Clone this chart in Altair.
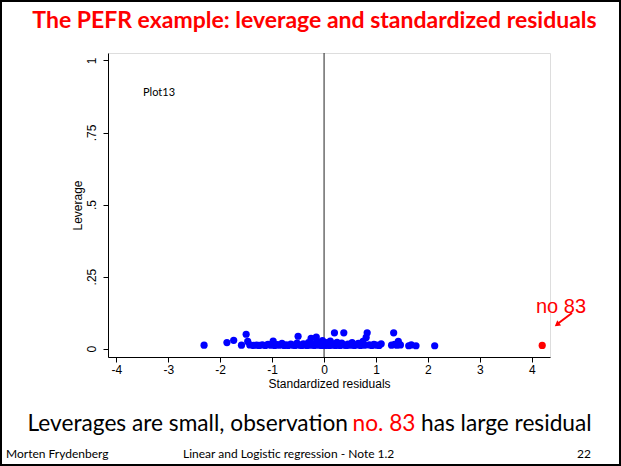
import altair as alt
import pandas as pd

residuals = [-2.31, -1.87, -1.74, -1.50, -1.59, -1.47, -1.43, -1.36, -1.30, -1.25,
             -1.19, -1.13, -1.08, -1.03, -0.98, -0.95, -0.90, -0.86, -0.81, -0.77,
             -0.73, -0.69, -0.64, -0.60, -0.56, -0.52, -0.50, -0.47, -0.43, -0.40,
             -0.37, -0.33, -0.30, -0.27, -0.25, -0.22, -0.19, -0.15, -0.13, -0.11,
             -0.08, -0.05, -0.03, -0.01, 0.02, 0.04, 0.07, 0.10, 0.12, 0.15,
             0.18, 0.20, 0.22, 0.25, 0.28, 0.31, 0.34, 0.38, 0.40, 0.43,
             0.46, 0.50, 0.54, 0.58, 0.62, 0.66, 0.70, 0.75, 0.78, 0.81,
             0.83, 0.87, 0.92, 0.96, 1.01, 1.06, 1.10, 1.30, 1.34, 1.36,
             1.40, 1.43, 1.47, 1.63, 1.68, 1.77, 2.13]
leverages = [0.012, 0.021, 0.029, 0.050, 0.012, 0.025, 0.013, 0.011, 0.012, 0.011,
             0.013, 0.011, 0.015, 0.012, 0.026, 0.011, 0.014, 0.012, 0.018, 0.011,
             0.013, 0.011, 0.016, 0.012, 0.011, 0.019, 0.043, 0.012, 0.011, 0.017,
             0.013, 0.011, 0.021, 0.012, 0.036, 0.015, 0.011, 0.040, 0.025, 0.012,
             0.018, 0.011, 0.028, 0.014, 0.011, 0.021, 0.013, 0.011, 0.026, 0.012,
             0.017, 0.055, 0.011, 0.022, 0.013, 0.011, 0.019, 0.055, 0.012, 0.011,
             0.016, 0.012, 0.021, 0.011, 0.013, 0.018, 0.011, 0.025, 0.012, 0.039,
             0.055, 0.013, 0.011, 0.015, 0.012, 0.011, 0.017, 0.012, 0.055, 0.015,
             0.012, 0.025, 0.013, 0.010, 0.013, 0.010, 0.010]
outlier_residual = [4.20]
outlier_leverage = [0.011]

x_ticks = [-4, -3, -2, -1, 0, 1, 2, 3, 4]
y_ticks = [0, 0.25, 0.5, 0.75, 1]

df = pd.DataFrame({"res": residuals, "lev": leverages})
df_out = pd.DataFrame({"res": outlier_residual, "lev": outlier_leverage})

W, H = 442, 304
PL, PT = 108, 53

xscale = alt.Scale(domain=[-4.16, 4.35], nice=False, zero=False)
yscale = alt.Scale(domain=[-0.029, 1.026], nice=False, zero=False)

common = dict(labelColor="black", titleColor="black", titleFontWeight="normal",
              labelFont="Liberation Sans", titleFont="Liberation Sans",
              domainColor="black", tickColor="black", grid=False)

xaxis = alt.Axis(values=x_ticks, title="Standardized residuals", labelExpr="'' + datum.value",
                 tickSize=5, labelPadding=2, titlePadding=3, labelFontSize=12, titleFontSize=12,
                 **common)
yaxis = alt.Axis(values=y_ticks, title="Leverage",
                 labelExpr="datum.value == 0 ? '0' : datum.value == 1 ? '1' : datum.value == 0.25 ? '.25' : datum.value == 0.5 ? '.5' : '.75'",
                 labelAngle=270, labelAlign="center", labelBaseline="bottom",
                 tickSize=5, labelPadding=5, titlePadding=1, labelFontSize=12, titleFontSize=12,
                 **common)

pts = alt.Chart(df).mark_circle(size=52, color="#0000ff", opacity=1).encode(
    x=alt.X("res:Q", scale=xscale, axis=xaxis),
    y=alt.Y("lev:Q", scale=yscale, axis=yaxis),
)
outp = alt.Chart(df_out).mark_circle(size=52, color="#ff0000", opacity=1).encode(
    x=alt.X("res:Q", scale=xscale), y=alt.Y("lev:Q", scale=yscale))

zero_line = alt.Chart(pd.DataFrame({"z": [0]})).mark_rule(color="#222222", strokeWidth=1).encode(
    x=alt.X("z:Q", scale=xscale))

def txt(s, x, y, size, color="black", font="Lato", weight="normal", align="left"):
    return alt.Chart(pd.DataFrame({"t": [s]})).mark_text(
        fontSize=size, color=color, font=font, fontWeight=weight, align=align,
        baseline="alphabetic").encode(text="t:N", x=alt.value(x - PL), y=alt.value(y - PT))

title = txt("The PEFR example: leverage and standardized residuals", 314.5, 28, 23,
            color="#ff0000", weight="bold", align="center")
plot13 = txt("Plot13", 143, 96, 11)
no83 = txt("no 83", 561, 313, 20, color="#ff0000", font="Liberation Sans", align="center")

s1 = txt("Leverages are small, observation", 348, 431, 22.7, align="right")
s2 = txt("no. 83", 384, 431, 22.7, color="#ff0000", align="center")
s3 = txt("has large residual", 421, 431, 22.7)

f1 = txt("Morten Frydenberg", 6, 458, 12)
f2 = txt("Linear and Logistic regression - Note 1.2", 183, 458, 12)
f3 = txt("22", 591, 458, 12, align="right")

arrow = alt.Chart(pd.DataFrame({"a": [0]})).mark_rule(color="#ff0000", strokeWidth=2).encode(
    x=alt.value(572 - PL), y=alt.value(313 - PT), x2=alt.value(558 - PL), y2=alt.value(323.5 - PT))
head = alt.Chart(pd.DataFrame({"a": [0]})).mark_point(
    shape="triangle-up", filled=True, color="#ff0000", size=40, angle=233, opacity=1).encode(
    x=alt.value(557 - PL), y=alt.value(324.5 - PT))

border = alt.Chart(pd.DataFrame({"a": [0]})).mark_rect(
    fill=None, stroke="black", strokeWidth=2).encode(
    x=alt.value(1 - PL), y=alt.value(1 - PT), x2=alt.value(620 - PL), y2=alt.value(465 - PT))

chart = alt.layer(zero_line, pts, outp, title, plot13, no83, s1, s2, s3, f1, f2, f3,
                  arrow, head, border).properties(
    width=W, height=H,
    autosize=alt.AutoSizeParams(type="none"),
    padding={"left": PL, "top": PT, "right": 621 - PL - W, "bottom": 466 - PT - H},
).configure_view(stroke="black", strokeWidth=1).configure(background="white")

chart.save("out.html", embed_options={"renderer": "svg", "actions": False})
